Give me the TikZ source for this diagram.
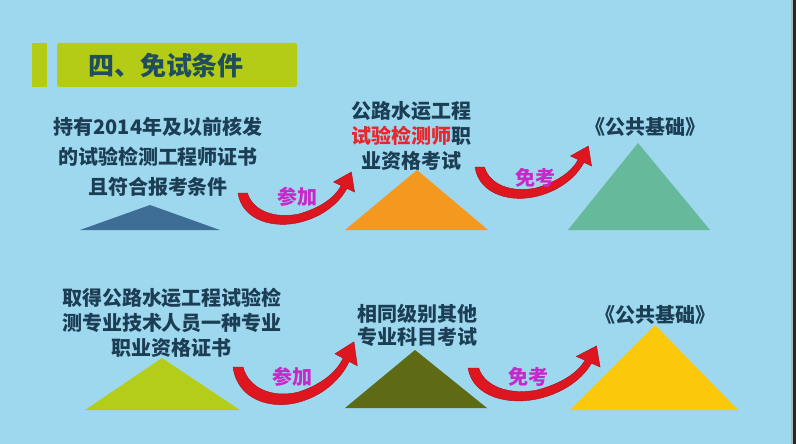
\documentclass[tikz,border=0pt]{standalone}
\usepackage{fontspec}
\setmainfont{Noto Sans CJK SC}
\usetikzlibrary{positioning}

\definecolor{skyback}{RGB}{158,216,238}
\definecolor{limebar}{RGB}{180,204,22}
\definecolor{titletext}{RGB}{32,78,92}
\definecolor{textdark}{RGB}{28,62,84}
\definecolor{hlred}{RGB}{232,38,43}
\definecolor{arrowred}{RGB}{222,22,32}
\definecolor{labmag}{RGB}{200,40,200}
\definecolor{tblue}{RGB}{62,110,150}
\definecolor{torange}{RGB}{245,152,30}
\definecolor{tteal}{RGB}{102,185,155}
\definecolor{tlime}{RGB}{180,205,25}
\definecolor{tolive}{RGB}{94,106,20}
\definecolor{tyellow}{RGB}{252,200,10}

\tikzset{
  bend arrow/.pic={
    \fill[arrowred,draw=arrowred!75!black,line width=0.4pt]
      (0,0) .. controls (4,28) and (35,36) .. (60,29)
      .. controls (82,23) and (97,9) .. (103.7,-4.6)
      -- (111,-1) -- (108,-21) -- (91,-11) -- (98.3,-7.4)
      .. controls (92,5) and (78,15) .. (58,21)
      .. controls (35,26) and (14,18) .. (9,0) -- cycle;
  }
}

\begin{document}
\begin{tikzpicture}[
  x=1pt,y=-1pt,
  title/.style={text=titletext,font=\bfseries\fontsize{26}{30}\selectfont,inner sep=0pt},
  body/.style={text=textdark,font=\bfseries\fontsize{20}{25}\selectfont,
    align=center,inner sep=0pt},
  lab/.style={text=labmag,font=\bfseries\fontsize{20}{22}\selectfont,inner sep=0pt}
]
% background
\fill[skyback] (0,0) rectangle (796,444);
\fill[gray!60] (791,0) rectangle (793,444);
\fill[black!85] (793,0) rectangle (796,444);
\useasboundingbox (0,0) rectangle (796,444);

% heading
\fill[limebar] (32,43) rectangle (47,87);
\fill[limebar,rounded corners=2pt] (57,43) rectangle (297,87);
\node[title] (head) at (166,66) {四、免试条件};

% first row
\fill[tblue] (80,230) -- (150,205) -- (220,230) -- cycle;
\fill[torange] (345,230) -- (417,170) -- (488,230) -- cycle;
\fill[tteal] (568,230) -- (638,143) -- (710,230) -- cycle;

\node[body,font=\bfseries\fontsize{20}{30}\selectfont] (old) at (158,157)
  {持有2014年及以前核发\\的试验检测工程师证书\\且符合报考条件};
\node[body] (exam) at (411,136)
  {公路水运工程\\{\color{hlred}试验检测师}职\\业资格考试};
\node[body] (base1) at (645,127) {《公共基础》};

\coordinate (a1) at (238,193);
\coordinate (a2) at (475,167);
\pic[xscale=1.05] at (a1) {bend arrow};
\pic[xscale=1.05] at (a2) {bend arrow};
\node[lab] (join1) at (297,197) {参加};
\node[lab] (free1) at (535,178) {免考};

% second row
\fill[tlime] (85,410) -- (162,358) -- (240,410) -- cycle;
\fill[tolive] (345,408) -- (415,350) -- (487,408) -- cycle;
\fill[tyellow] (570,410) -- (655,325) -- (738,410) -- cycle;

\node[body] (cert) at (172,323)
  {取得公路水运工程试验检\\测专业技术人员一种专业\\职业资格证书};
\node[body,font=\bfseries\fontsize{20}{23}\selectfont] (other) at (417,325)
  {相同级别其他\\专业科目考试};
\node[body] (base2) at (655,315) {《公共基础》};

\coordinate (a3) at (233,367);
\coordinate (a4) at (468,368);
\pic[xscale=1.12,yscale=1.2] at (a3) {bend arrow};
\pic[xscale=1.19,yscale=1.05] at (a4) {bend arrow};
\node[lab] (join2) at (292,377) {参加};
\node[lab] (free2) at (528,377) {免考};
\end{tikzpicture}
\end{document}
